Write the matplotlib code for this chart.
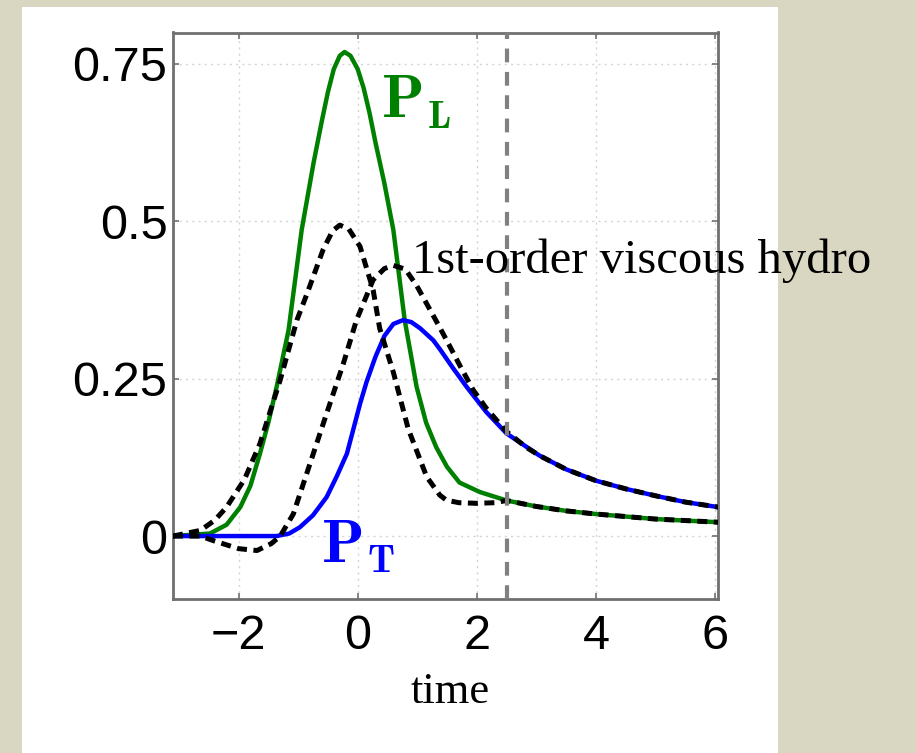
import matplotlib.pyplot as plt
from matplotlib.patches import Rectangle

# values
t_PL = [-3.1, -2.48, -2.2, -1.97, -1.8, -1.64, -1.5, -1.36, -1.16, -0.94, -0.74, -0.6, -0.5,
        -0.4, -0.3, -0.22, -0.12, 0.0, 0.1, 0.2, 0.3, 0.45, 0.6, 0.79, 0.99, 1.15, 1.32, 1.5,
        1.71, 2.05, 2.5, 3.0, 3.5, 4.0, 5.0, 6.05]
PL = [0.0, 0.004, 0.018, 0.046, 0.08, 0.131, 0.18, 0.237, 0.327, 0.486, 0.593, 0.66, 0.705,
      0.742, 0.763, 0.769, 0.763, 0.742, 0.712, 0.672, 0.625, 0.56, 0.486, 0.343, 0.237,
      0.18, 0.141, 0.11, 0.085, 0.07, 0.0565, 0.047, 0.04, 0.035, 0.027, 0.022]

t_PT = [-3.1, -1.36, -1.15, -0.97, -0.75, -0.52, -0.35, -0.18, 0.04, 0.15, 0.3, 0.45, 0.6,
        0.76, 0.9, 1.05, 1.27, 1.38, 1.6, 1.83, 2.16, 2.5, 3.05, 3.5, 4.0, 4.5, 5.0, 5.5, 6.05]
PT = [0.0, 0.0, 0.004, 0.014, 0.033, 0.062, 0.095, 0.131, 0.21, 0.245, 0.285, 0.318, 0.337,
      0.343, 0.34, 0.33, 0.311, 0.297, 0.267, 0.237, 0.197, 0.163, 0.128, 0.106, 0.088,
      0.075, 0.064, 0.054, 0.046]

# first-order viscous hydro
t_vL = [-3.1, -2.64, -2.4, -2.2, -1.9, -1.64, -1.3, -1.02, -0.85, -0.58, -0.42, -0.3, -0.15,
        0.04, 0.26, 0.37, 0.6, 0.85, 1.16, 1.38, 1.49, 1.7, 2.0, 2.3, 2.5, 3.0, 3.5, 4.0, 5.0,
        6.05]
vL = [0.0, 0.009, 0.025, 0.046, 0.09, 0.147, 0.248, 0.343, 0.385, 0.455, 0.485, 0.494, 0.488,
      0.46, 0.391, 0.33, 0.26, 0.17, 0.094, 0.065, 0.057, 0.053, 0.052, 0.053, 0.0565, 0.047,
      0.04, 0.035, 0.027, 0.022]

t_vT = [-3.1, -2.64, -2.4, -2.0, -1.69, -1.45, -1.3, -1.08, -0.8, -0.52, -0.24, -0.02, 0.26,
        0.45, 0.6, 0.8, 0.99, 1.3, 1.5, 1.71, 1.94, 2.16, 2.5, 2.83, 3.05, 3.5, 4.0, 4.5, 5.0,
        5.5, 6.05]
vT = [0.0, 0.0, -0.008, -0.02, -0.023, -0.012, 0.0, 0.035, 0.115, 0.195, 0.274, 0.343, 0.407,
      0.425, 0.43, 0.424, 0.398, 0.345, 0.31, 0.272, 0.232, 0.203, 0.166, 0.141, 0.128,
      0.106, 0.088, 0.075, 0.064, 0.054, 0.046]

t_mark = 2.5

xticks = [-2, 0, 2, 4, 6]
yticks = [0, 0.25, 0.5, 0.75]
ytick_labels = ["0", "0.25", "0.5", "0.75"]

W, H = 916, 753
fig = plt.figure(figsize=(W / 100, H / 100), dpi=100)
fig.patch.set_facecolor("#d9d7c1")
fig.patches.append(Rectangle((22 / W, 0), (778 - 22) / W, (753 - 7) / H,
                             transform=fig.transFigure, facecolor="white",
                             edgecolor="none", zorder=-1))

ax = fig.add_axes([173 / W, 1 - 599 / H, (718 - 173) / W, (599 - 32.5) / H])
ax.set_facecolor("white")

ax.plot(t_PL, PL, color="#008000", lw=3.2, zorder=3)
ax.plot(t_PT, PT, color="#0000ff", lw=3.2, zorder=3)
ax.plot(t_vL, vL, color="black", lw=3.6, ls=(0, (2.0, 1.3)), zorder=4)
ax.plot(t_vT, vT, color="black", lw=3.6, ls=(0, (2.0, 1.3)), zorder=4)
ax.axvline(t_mark, color="#808080", lw=3.0, ls=(0, (3.3, 2.3)), zorder=5)

ax.set_xlim(-3.1, 6.05)
ax.set_ylim(-0.1, 0.8)
ax.set_xticks(xticks)
ax.set_yticks(yticks)
ax.set_yticklabels(ytick_labels)
ax.grid(True, color="#d4d4d4", lw=1.0, ls=(0, (1.5, 3)))
ax.set_axisbelow(True)

for s in ax.spines.values():
    s.set_color("#707070")
    s.set_linewidth(2.0)
ax.tick_params(direction="in", length=4, width=1.2, color="#707070",
               top=True, right=True, labelsize=35)
ax.tick_params(axis="x", pad=11)
ax.tick_params(axis="y", pad=4)
for lab in ax.get_xticklabels() + ax.get_yticklabels():
    lab.set_family("Liberation Sans")

ax.set_xlabel("time", family="Liberation Serif", fontsize=32)
ax.xaxis.set_label_coords(0.508, -0.128)

ax.text(0.39, 0.665, r"$\mathbf{P}$", color="#008000", math_fontfamily="cm",
        fontsize=45, va="baseline", ha="left")
ax.text(1.17, 0.649, r"$\mathbf{L}$", color="#008000", math_fontfamily="cm",
        fontsize=28, va="baseline", ha="left")
ax.text(-0.62, -0.042, r"$\mathbf{P}$", color="#0000ff", math_fontfamily="cm",
        fontsize=45, va="baseline", ha="left")
ax.text(0.16, -0.0565, r"$\mathbf{T}$", color="#0000ff", math_fontfamily="cm",
        fontsize=28, va="baseline", ha="left")
ax.text(0.91, 0.418, "1st-order viscous hydro", color="black", family="Liberation Serif",
        fontsize=35, va="baseline", ha="left", clip_on=False, zorder=6)

fig.savefig("out.png", dpi=100, facecolor=fig.get_facecolor())
